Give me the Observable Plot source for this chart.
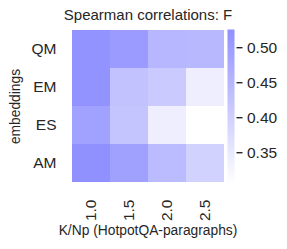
<!DOCTYPE html>
<html><head><meta charset="utf-8">
<script src="https://cdn.jsdelivr.net/npm/d3@7"></script>
<script src="https://cdn.jsdelivr.net/npm/@observablehq/plot@0.6"></script>
<style>
body{margin:0;background:#fff;}
#wrap{position:relative;width:287px;height:249px;font-family:"Liberation Sans",Arial,sans-serif;}
#wrap svg{position:absolute;left:0;top:0;}
</style></head><body><div id="wrap"></div>
<script>
const kValues = ["1.0", "1.5", "2.0", "2.5"];
const embeddings = ["QM", "EM", "ES", "AM"];
const corrQM = [0.520, 0.505, 0.449, 0.447];
const corrEM = [0.520, 0.426, 0.412, 0.339];
const corrES = [0.493, 0.422, 0.339, 0.306];
const corrAM = [0.526, 0.494, 0.440, 0.396];
const colorTicks = [0.35, 0.40, 0.45, 0.50];
const titleText = "Spearman correlations: F";
const xLabel = "K/Np (HotpotQA-paragraphs)";
const yLabel = "embeddings";

const rows = [corrQM, corrEM, corrES, corrAM];
const table = [];
embeddings.forEach((e, i) => kValues.forEach((k, j) => table.push({k, e, v: rows[i][j]})));
const [lo, hi] = d3.extent(table, d => d.v);
const colorOpts = {type: "linear", domain: [lo, hi], range: ["#ffffff", "#9090ff"]};
const ink = "#262626";
const style = {fontFamily: "Liberation Sans, Arial, sans-serif", fontSize: "15px", color: ink, background: "transparent", overflow: "visible"};

const main = Plot.plot({
  width: 287, height: 249,
  marginTop: 29, marginBottom: 66, marginLeft: 70, marginRight: 62,
  style,
  x: {domain: kValues, padding: 0},
  y: {domain: embeddings, padding: 0},
  color: colorOpts,
  marks: [
    Plot.cell(table, {x: "k", y: "e", fill: "v", inset: 0}),
    Plot.axisX({anchor: "bottom", tickRotate: -90, tickSize: 0, tickPadding: 16, fontSize: 15.5, label: null, fill: ink}),
    Plot.axisY({anchor: "left", tickSize: 0, tickPadding: 14, fontSize: 15.5, label: null, fill: ink}),
    Plot.text([titleText], {frameAnchor: "top", lineAnchor: "bottom", dy: -9.5, fontSize: 15, fill: ink}),
    Plot.text([xLabel], {frameAnchor: "bottom", lineAnchor: "bottom", dy: 51, fontSize: 13.8, fill: ink}),
    Plot.text([yLabel], {frameAnchor: "left", rotate: -90, lineAnchor: "middle", textAnchor: "middle", dx: -55, fontSize: 13.8, fill: ink})
  ]
});

const bar = Plot.plot({
  width: 287, height: 249,
  marginTop: 29, marginBottom: 66, marginLeft: 227, marginRight: 53,
  style,
  x: {domain: [0, 1], axis: null},
  y: {domain: [lo, hi], axis: null},
  color: colorOpts,
  marks: [
    Plot.raster({x1: 0, x2: 1, y1: lo, y2: hi, width: 1, height: 200, fill: (x, y) => y}),
    Plot.axisY({anchor: "right", ticks: colorTicks, tickFormat: d3.format(".2f"), tickSize: 6, tickPadding: 5, dx: 1.5, strokeWidth: 1.4, stroke: ink, fill: ink, fontSize: 15.5, label: null})
  ]
});

const wrap = document.getElementById("wrap");
wrap.appendChild(main);
wrap.appendChild(bar);
</script></body></html>
